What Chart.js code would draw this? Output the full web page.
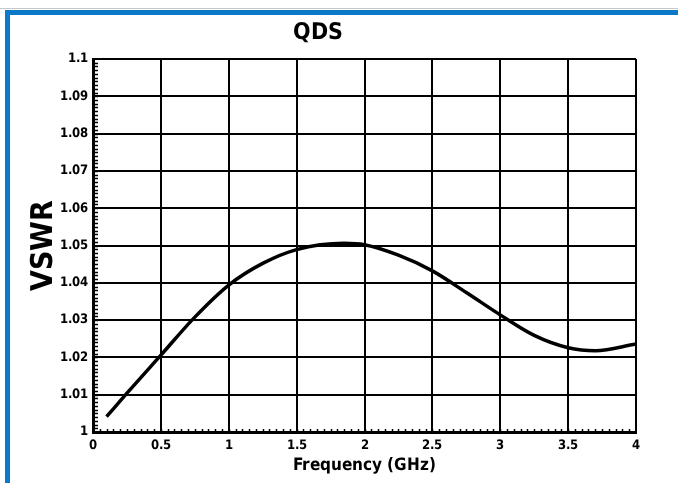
<!DOCTYPE html>
<html>
<head>
<meta charset="utf-8">
<title>QDS VSWR</title>
<script src="https://cdn.jsdelivr.net/npm/chart.js@4/dist/chart.umd.min.js"></script>
<style>
  @font-face {
    font-family: 'CondBold';
    src: local('DejaVu Sans Condensed Bold'), local('DejaVuSansCondensed-Bold'),
         local('Liberation Sans Narrow Bold'), local('LiberationSansNarrow-Bold');
    font-weight: bold;
  }
  html, body { margin: 0; padding: 0; background: #fff; }
  #wrap { position: relative; width: 678px; height: 483px; overflow: hidden; }
  #grayLine { position: absolute; left: 0; top: 8px; width: 678px; height: 1px; background: #c8c8c8; }
  #topBar { position: absolute; left: 5px; top: 10px; width: 673px; height: 5px; background: #0a7ac8; }
  #leftBar { position: absolute; left: 5px; top: 10px; width: 5px; height: 473px; background: #0a7ac8; }
  canvas { position: absolute; left: 0; top: 0; }
</style>
</head>
<body>
<div id="wrap">
  <div id="grayLine"></div>
  <div id="topBar"></div>
  <div id="leftBar"></div>
  <canvas id="chart" width="678" height="483"></canvas>
</div>
<script>
// ---- data ----
const freqGHz = [0.1, 0.25, 0.5, 0.75, 1.0, 1.25, 1.5, 1.85, 2.0, 2.25, 2.5, 2.75, 3.0, 3.25, 3.5, 3.7, 4.0];
const vswr    = [1.0041, 1.0104, 1.0206, 1.0308, 1.0394, 1.0452, 1.0489, 1.0506, 1.0502, 1.0474, 1.0432, 1.0374, 1.0314, 1.0259, 1.0226, 1.0218, 1.0236];

const xMin = 0, xMax = 4, xStep = 0.5, xMinorStep = 0.05;
const yMin = 1, yMax = 1.1, yStep = 0.01, yMinorStep = 0.001;

const chartTitle = 'QDS';
const xTitle = 'Frequency (GHz)';
const yTitle = 'VSWR';

const FONT = "CondBold, 'DejaVu Sans Condensed', 'Liberation Sans Narrow', 'DejaVu Sans', sans-serif";

// small inward minor ticks on the left and bottom axes
const minorTicks = {
  id: 'minorTicks',
  afterDatasetsDraw(chart) {
    const ctx = chart.ctx;
    const xs = chart.scales.x, ys = chart.scales.y;
    const area = chart.chartArea;
    ctx.save();
    ctx.strokeStyle = '#000';
    ctx.lineWidth = 1.5;
    ctx.beginPath();
    const ny = Math.round((yMax - yMin) / yMinorStep);
    for (let i = 1; i < ny; i++) {
      const py = Math.round(ys.getPixelForValue(yMin + i * yMinorStep)) + 0.5;
      ctx.moveTo(area.left, py);
      ctx.lineTo(area.left + 5, py);
    }
    const nx = Math.round((xMax - xMin) / xMinorStep);
    for (let i = 1; i < nx; i++) {
      const px = Math.round(xs.getPixelForValue(xMin + i * xMinorStep)) + 0.5;
      ctx.moveTo(px, area.bottom);
      ctx.lineTo(px, area.bottom - 3);
    }
    ctx.stroke();
    ctx.restore();
  }
};

function drawChart() {
  const points = freqGHz.map(function(f, i) { return { x: f, y: vswr[i] }; });

  new Chart(document.getElementById('chart').getContext('2d'), {
    type: 'line',
    data: {
      datasets: [{
        data: points,
        borderColor: '#000',
        borderWidth: 3.5,
        pointRadius: 0,
        fill: false,
        cubicInterpolationMode: 'monotone'
      }]
    },
    options: {
      responsive: false,
      animation: false,
      layout: { padding: { left: 0, right: 42, top: 0, bottom: 0 } },
      plugins: {
        legend: { display: false },
        tooltip: { enabled: false },
        title: {
          display: true,
          text: chartTitle,
          color: '#000',
          font: { family: FONT, size: 23, weight: 'bold', lineHeight: 1.2 },
          padding: { top: 19, bottom: 12.4 }
        }
      },
      scales: {
        x: {
          type: 'linear',
          min: xMin,
          max: xMax,
          afterFit: function(scale) { scale.height = 51; },
          grid: { color: '#000', lineWidth: 2, drawTicks: false },
          border: { color: '#000', width: 3 },
          ticks: {
            stepSize: xStep,
            padding: 6,
            color: '#000',
            font: { family: FONT, size: 13, weight: 'bold' },
            maxRotation: 0,
            callback: function(v) { return String(Number(v.toFixed(2))); }
          },
          title: {
            display: true,
            text: xTitle,
            color: '#000',
            font: { family: FONT, size: 17, weight: 'bold', lineHeight: 1.2 },
            padding: { top: 0, bottom: 7 }
          }
        },
        y: {
          type: 'linear',
          min: yMin,
          max: yMax,
          afterFit: function(scale) { scale.width = 93; },
          grid: { color: '#000', lineWidth: 2, drawTicks: false },
          border: { color: '#000', width: 3 },
          ticks: {
            stepSize: yStep,
            padding: 5,
            color: '#000',
            font: { family: FONT, size: 13, weight: 'bold' },
            callback: function(v) { return String(Number(v.toFixed(2))); }
          },
          title: {
            display: true,
            text: yTitle,
            color: '#000',
            font: { family: FONT, size: 30, weight: 'bold', lineHeight: 1.2 },
            padding: { top: 26, bottom: 0 }
          }
        }
      }
    },
    plugins: [minorTicks]
  });
}

if (document.fonts && document.fonts.load) {
  document.fonts.load("bold 13px CondBold").then(drawChart, drawChart);
} else {
  drawChart();
}
</script>
</body>
</html>
